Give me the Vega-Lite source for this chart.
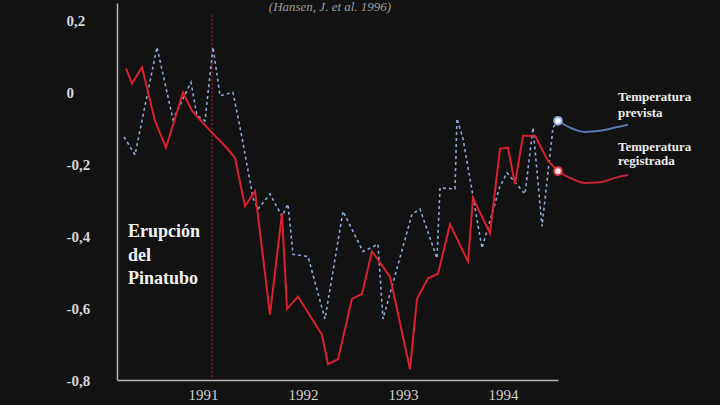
{
  "$schema": "https://vega.github.io/schema/vega-lite/v6.json",
  "width": 441,
  "height": 377,
  "autosize": "none",
  "padding": {"left": 117, "top": 3, "right": 162, "bottom": 25},
  "background": "#121212",
  "config": {"view": {"stroke": null}, "font": "Liberation Serif"},
  "datasets": {
    "reg": [
      {"x": 1990.23, "y": 0.068}, {"x": 1990.29, "y": 0.026}, {"x": 1990.39, "y": 0.071},
      {"x": 1990.52, "y": -0.078}, {"x": 1990.63, "y": -0.153}, {"x": 1990.80, "y": 0.001},
      {"x": 1990.89, "y": -0.050}, {"x": 1990.95, "y": -0.069}, {"x": 1991.09, "y": -0.111},
      {"x": 1991.20, "y": -0.142}, {"x": 1991.32, "y": -0.181}, {"x": 1991.42, "y": -0.316},
      {"x": 1991.52, "y": -0.274}, {"x": 1991.67, "y": -0.618}, {"x": 1991.79, "y": -0.335},
      {"x": 1991.84, "y": -0.602}, {"x": 1991.95, "y": -0.568}, {"x": 1992.19, "y": -0.674},
      {"x": 1992.25, "y": -0.756}, {"x": 1992.35, "y": -0.742}, {"x": 1992.49, "y": -0.574},
      {"x": 1992.59, "y": -0.560}, {"x": 1992.69, "y": -0.442}, {"x": 1992.87, "y": -0.512},
      {"x": 1993.07, "y": -0.770}, {"x": 1993.14, "y": -0.574}, {"x": 1993.25, "y": -0.517},
      {"x": 1993.35, "y": -0.504}, {"x": 1993.47, "y": -0.366}, {"x": 1993.65, "y": -0.470},
      {"x": 1993.70, "y": -0.293}, {"x": 1993.87, "y": -0.391}, {"x": 1993.97, "y": -0.156},
      {"x": 1994.05, "y": -0.153}, {"x": 1994.12, "y": -0.254}, {"x": 1994.20, "y": -0.120},
      {"x": 1994.32, "y": -0.120}, {"x": 1994.45, "y": -0.190}, {"x": 1994.55, "y": -0.218}
    ],
    "pred": [
      {"x": 1990.21, "y": -0.123}, {"x": 1990.32, "y": -0.173}, {"x": 1990.54, "y": 0.127},
      {"x": 1990.70, "y": -0.075}, {"x": 1990.88, "y": 0.029}, {"x": 1990.94, "y": -0.064},
      {"x": 1991.02, "y": -0.078}, {"x": 1991.10, "y": 0.127}, {"x": 1991.17, "y": -0.008},
      {"x": 1991.30, "y": 0.001}, {"x": 1991.39, "y": -0.125}, {"x": 1991.50, "y": -0.293},
      {"x": 1991.55, "y": -0.324}, {"x": 1991.67, "y": -0.282}, {"x": 1991.79, "y": -0.344},
      {"x": 1991.85, "y": -0.310}, {"x": 1991.90, "y": -0.450}, {"x": 1992.05, "y": -0.456},
      {"x": 1992.22, "y": -0.630}, {"x": 1992.40, "y": -0.330}, {"x": 1992.60, "y": -0.442},
      {"x": 1992.75, "y": -0.422}, {"x": 1992.80, "y": -0.630}, {"x": 1993.09, "y": -0.338},
      {"x": 1993.17, "y": -0.324}, {"x": 1993.34, "y": -0.461}, {"x": 1993.37, "y": -0.265},
      {"x": 1993.52, "y": -0.268}, {"x": 1993.54, "y": -0.072}, {"x": 1993.60, "y": -0.128},
      {"x": 1993.79, "y": -0.433}, {"x": 1993.97, "y": -0.260}, {"x": 1994.04, "y": -0.223},
      {"x": 1994.22, "y": -0.282}, {"x": 1994.30, "y": -0.097}, {"x": 1994.39, "y": -0.372},
      {"x": 1994.50, "y": -0.097}, {"x": 1994.55, "y": -0.078}
    ],
    "legpred": [
      {"x": 1994.55, "y": -0.078}, {"x": 1994.67, "y": -0.097}, {"x": 1994.82, "y": -0.109},
      {"x": 1994.97, "y": -0.106}, {"x": 1995.12, "y": -0.097}, {"x": 1995.25, "y": -0.089}
    ],
    "legreg": [
      {"x": 1994.55, "y": -0.218}, {"x": 1994.67, "y": -0.237}, {"x": 1994.82, "y": -0.251},
      {"x": 1994.97, "y": -0.249}, {"x": 1995.12, "y": -0.237}, {"x": 1995.25, "y": -0.229}
    ]
  },
  "encoding": {
    "x": {
      "field": "x", "type": "quantitative",
      "scale": {"domain": [1990.14, 1994.55], "nice": false, "zero": false},
      "axis": {
        "values": [1991, 1992, 1993, 1994], "format": "d", "title": null, "grid": false,
        "ticks": false, "domainColor": "#b5b5b5", "domainWidth": 1.5,
        "labelColor": "#d0d0d0", "labelFont": "Liberation Serif", "labelFontSize": 15,
        "labelPadding": 7
      }
    },
    "y": {
      "field": "y", "type": "quantitative",
      "scale": {"domain": [-0.8, 0.25], "nice": false, "zero": false},
      "axis": {
        "values": [-0.8, -0.6, -0.4, -0.2, 0, 0.2], "title": null, "grid": false,
        "ticks": false, "domainColor": "#b5b5b5", "domainWidth": 1.5,
        "labelExpr": "replace(toString(datum.value), '.', ',')",
        "labelColor": "#d8d8d8", "labelFont": "Liberation Serif", "labelFontSize": 15,
        "labelFontWeight": "bold", "labelAlign": "left", "labelPadding": 51
      }
    }
  },
  "layer": [
    {
      "data": {"values": [{"x": 1991.09, "y": 0.216, "y2": -0.8}]},
      "mark": {"type": "rule", "color": "#a51e32", "strokeDash": [2, 2], "strokeWidth": 1.2},
      "encoding": {"y2": {"field": "y2"}}
    },
    {
      "data": {"name": "pred"},
      "mark": {"type": "line", "color": "#8ea8d8", "strokeDash": [3, 3], "strokeWidth": 1.6}
    },
    {
      "data": {"name": "reg"},
      "mark": {"type": "line", "color": "#d8202f", "strokeWidth": 2}
    },
    {
      "data": {"name": "legpred"},
      "mark": {"type": "line", "color": "#5b78b5", "strokeWidth": 2, "interpolate": "monotone"}
    },
    {
      "data": {"name": "legreg"},
      "mark": {"type": "line", "color": "#c42236", "strokeWidth": 2, "interpolate": "monotone"}
    },
    {
      "data": {"values": [{"x": 1994.55, "y": -0.078}]},
      "mark": {"type": "point", "filled": true, "fill": "#f4f7ff", "stroke": "#8ea8d8", "strokeWidth": 2, "size": 60, "opacity": 1}
    },
    {
      "data": {"values": [{"x": 1994.55, "y": -0.218}]},
      "mark": {"type": "point", "filled": true, "fill": "#ffe6ea", "stroke": "#e03a4e", "strokeWidth": 2, "size": 60, "opacity": 1}
    },
    {
      "data": {"values": [
        {"x": 1990.25, "y": -0.389, "t": "Erupción"},
        {"x": 1990.25, "y": -0.456, "t": "del"},
        {"x": 1990.25, "y": -0.520, "t": "Pinatubo"}
      ]},
      "mark": {"type": "text", "align": "left", "baseline": "middle", "font": "Liberation Serif", "fontWeight": "bold", "fontSize": 18, "color": "#f2f2f2"},
      "encoding": {"text": {"field": "t"}}
    },
    {
      "data": {"values": [
        {"x": 1995.15, "y": -0.013, "t": "Temperatura"},
        {"x": 1995.15, "y": -0.055, "t": "prevista"},
        {"x": 1995.15, "y": -0.151, "t": "Temperatura"},
        {"x": 1995.15, "y": -0.190, "t": "registrada"}
      ]},
      "mark": {"type": "text", "align": "left", "baseline": "middle", "font": "Liberation Serif", "fontWeight": "bold", "fontSize": 13, "color": "#ececec"},
      "encoding": {"text": {"field": "t"}}
    },
    {
      "data": {"values": [{"x": 1992.27, "y": 0.2276, "t": "(Hansen, J. et al. 1996)"}]},
      "mark": {"type": "text", "align": "center", "baseline": "alphabetic", "font": "Liberation Serif", "fontStyle": "italic", "fontSize": 13, "color": "#9c9c9c"},
      "encoding": {"text": {"field": "t"}}
    }
  ]
}
